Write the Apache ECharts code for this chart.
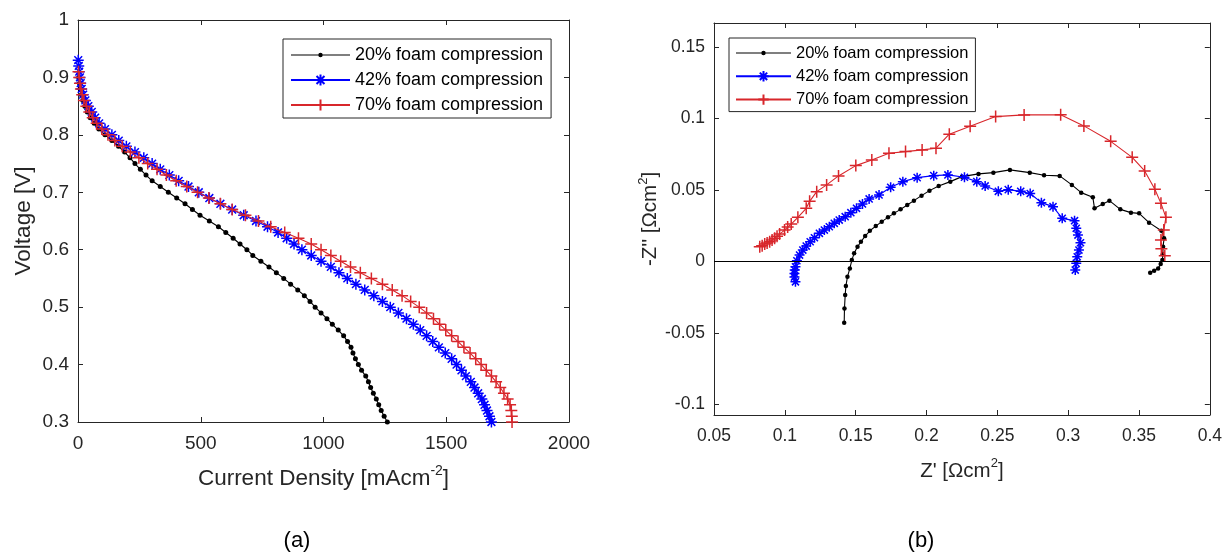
<!DOCTYPE html>
<html><head><meta charset="utf-8">
<script src="https://cdn.jsdelivr.net/npm/echarts@6/dist/echarts.min.js"></script>
<style>html,body{margin:0;padding:0;background:#fff;}#c{width:1225px;height:554px;}</style>
</head><body><div id="c"></div>
<script>
// ---------- names & ticks ----------
const seriesNames = ['20% foam compression', '42% foam compression', '70% foam compression'];
const leftXTicks = [0, 500, 1000, 1500, 2000];
const leftYTicks = [0.3, 0.4, 0.5, 0.6, 0.7, 0.8, 0.9, 1];
const rightXTicks = [0.05, 0.1, 0.15, 0.2, 0.25, 0.3, 0.35, 0.4];
const rightYTicks = [-0.1, -0.05, 0, 0.05, 0.1, 0.15];

// ---------- (a) polarisation curves: voltage [V] vs current density [mA cm-2] ----------
const voltage20 = [0.90,0.89,0.88,0.87,0.86,0.85,0.84,0.83,0.82,0.81,0.80,0.79,0.78,0.77,0.76,0.75,0.74,0.73,0.72,0.71,0.70,0.69,0.68,0.67,0.66,0.65,0.64,0.63,0.62,0.61,0.60,0.59,0.58,0.57,0.56,0.55,0.54,0.53,0.52,0.51,0.50,0.49,0.48,0.47,0.46,0.45,0.44,0.43,0.42,0.41,0.40,0.39,0.38,0.37,0.36,0.35,0.34,0.33,0.32,0.31,0.30];
const current20 = [3,6,9,14,20,28,38,50,66,85,110,138,165,190,212,232,254,277,302,335,368,402,436,466,497,535,572,602,632,660,688,712,745,778,808,838,866,895,922,945,966,990,1014,1036,1060,1082,1098,1112,1120,1130,1142,1155,1172,1183,1192,1203,1215,1225,1235,1247,1260];

const voltage42 = [0.93,0.92,0.91,0.90,0.89,0.88,0.87,0.86,0.85,0.84,0.83,0.82,0.81,0.80,0.79,0.78,0.77,0.76,0.75,0.74,0.73,0.72,0.71,0.70,0.69,0.68,0.67,0.66,0.65,0.64,0.63,0.62,0.61,0.60,0.59,0.58,0.57,0.56,0.55,0.54,0.53,0.52,0.51,0.50,0.49,0.48,0.47,0.46,0.45,0.44,0.43,0.42,0.41,0.40,0.39,0.38,0.37,0.36,0.35,0.34,0.33,0.32,0.31,0.30];
const current42 = [1,3,5,8,11,15,21,30,42,56,70,86,110,138,166,197,232,268,302,335,372,410,450,492,535,580,628,675,725,772,815,850,880,912,950,990,1030,1063,1097,1132,1168,1205,1240,1272,1305,1338,1366,1394,1420,1445,1470,1496,1522,1542,1562,1580,1600,1615,1630,1645,1656,1666,1676,1684];

const voltage70 = [0.91,0.90,0.89,0.88,0.87,0.86,0.85,0.84,0.83,0.82,0.81,0.80,0.79,0.78,0.77,0.76,0.75,0.74,0.73,0.72,0.71,0.70,0.69,0.68,0.67,0.66,0.65,0.64,0.63,0.62,0.61,0.60,0.59,0.58,0.57,0.56,0.55,0.54,0.53,0.52,0.51,0.50,0.49,0.48,0.47,0.46,0.45,0.44,0.43,0.42,0.41,0.40,0.39,0.38,0.37,0.36,0.35,0.34,0.33,0.32,0.31,0.30];
const current70 = [2,5,8,12,17,24,34,46,60,76,97,122,150,180,213,248,284,322,360,400,443,487,533,580,628,682,735,785,842,898,950,990,1030,1070,1110,1150,1195,1240,1280,1320,1355,1390,1420,1448,1473,1498,1522,1548,1572,1597,1620,1642,1663,1684,1703,1720,1735,1750,1760,1765,1767,1768];

// ---------- (b) Nyquist plots: Z' and -Z'' [Ohm cm2] ----------
const zRe20 = [0.1419,0.1421,0.1426,0.1431,0.1442,0.1459,0.1473,0.1489,0.1513,0.1537,0.1567,0.1600,0.1642,0.1684,0.1728,0.1770,0.1817,0.1864,0.1911,0.1965,0.2021,0.2086,0.2168,0.2250,0.2367,0.2472,0.2589,0.2729,0.2830,0.2940,0.3026,0.3092,0.3174,0.3186,0.3244,0.3291,0.3368,0.3443,0.3501,0.3571,0.3658,0.3677,0.3670,0.3668,0.3665,0.3653,0.3635,0.3607,0.3579];
const zIm20 = [-0.0430,-0.0330,-0.0236,-0.0173,-0.0108,-0.0049,0.0009,0.0056,0.0102,0.0137,0.0177,0.0214,0.0247,0.0278,0.0308,0.0336,0.0364,0.0395,0.0425,0.0460,0.0495,0.0528,0.0558,0.0593,0.0612,0.0621,0.0640,0.0621,0.0603,0.0598,0.0535,0.0481,0.0449,0.0371,0.0402,0.0425,0.0364,0.0341,0.0336,0.0271,0.0214,0.0161,0.0102,0.0050,0.0009,-0.0019,-0.0049,-0.0066,-0.0080];

const zRe42 = [0.1075,0.1068,0.1068,0.1070,0.1075,0.1085,0.1104,0.1127,0.1151,0.1179,0.1209,0.1244,0.1279,0.1314,0.1349,0.1384,0.1426,0.1466,0.1506,0.1548,0.1595,0.1665,0.1747,0.1833,0.1934,0.2051,0.2151,0.2268,0.2355,0.2414,0.2507,0.2577,0.2665,0.2732,0.2811,0.2893,0.2958,0.3045,0.3057,0.3069,0.3087,0.3076,0.3064,0.3057,0.3050];
const zIm42 = [-0.0143,-0.0110,-0.0084,-0.0060,-0.0038,0.0004,0.0044,0.0079,0.0107,0.0137,0.0165,0.0196,0.0219,0.0242,0.0266,0.0289,0.0313,0.0341,0.0371,0.0402,0.0437,0.0465,0.0519,0.0558,0.0586,0.0600,0.0605,0.0589,0.0558,0.0528,0.0490,0.0502,0.0490,0.0475,0.0411,0.0383,0.0301,0.0285,0.0231,0.0184,0.0130,0.0079,0.0032,-0.0014,-0.0061];

const zRe70 = [0.0823,0.0840,0.0858,0.0875,0.0893,0.0910,0.0928,0.0945,0.0963,0.0998,0.1020,0.1045,0.1092,0.1151,0.1175,0.1225,0.1295,0.1379,0.1501,0.1614,0.1735,0.1852,0.1969,0.2067,0.2161,0.2308,0.2488,0.2689,0.2947,0.3111,0.3300,0.3452,0.3540,0.3612,0.3655,0.3690,0.3675,0.3655,0.3658,0.3682];
const zIm70 = [0.0102,0.0110,0.0121,0.0129,0.0137,0.0150,0.0161,0.0176,0.0191,0.0219,0.0240,0.0261,0.0308,0.0371,0.0420,0.0488,0.0535,0.0598,0.0670,0.0710,0.0757,0.0768,0.0780,0.0792,0.0890,0.0945,0.1013,0.1025,0.1026,0.0948,0.0840,0.0728,0.0633,0.0505,0.0406,0.0308,0.0220,0.0150,0.0088,0.0040];

// ---------- styling ----------
const FONT = "'Liberation Sans', Arial, Helvetica, sans-serif";
const AX = '#262626';
const COLORS = ['#000000', '#0000ff', '#d8262b'];
const ASTERISK = 'path://M5,0L5,10M0,5L10,5M1.46,1.46L8.54,8.54M8.54,1.46L1.46,8.54';
const PLUS = 'path://M5,0L5,10M0,5L10,5';
function zip(xs, ys) { return xs.map((x, i) => [x, ys[i]]); }
function octagon(cx, cy, r) {
  let s = '';
  for (let k = 0; k < 8; k++) {
    const a = k * Math.PI / 4;
    s += (k ? 'L' : 'M') + (cx + r * Math.cos(a)).toFixed(2) + ',' + (cy + r * Math.sin(a)).toFixed(2);
  }
  return s + 'Z';
}
function blackIcon(w, h) {
  const c = h / 2;
  return 'path://M0,' + (c - 0.5) + 'L' + w + ',' + (c - 0.5) + 'L' + w + ',' + (c + 0.5) + 'L0,' + (c + 0.5) + 'Z' + octagon(w / 2, c, 2.3);
}
function fmt(v) { return String(parseFloat(v.toFixed(4))); }

function valAxis(o) {
  const base = {
    type: 'value', splitLine: { show: false },
    axisLine: { show: true, onZero: false, lineStyle: { color: AX, width: 1 } },
    axisTick: { show: true, inside: true, length: 5, lineStyle: { color: AX, width: 1 } },
    axisLabel: { show: true, color: AX, fontFamily: FONT, fontSize: 19, margin: 12, formatter: fmt }
  };
  const r = Object.assign({}, base, o);
  if (o.axisLabel) r.axisLabel = Object.assign({}, base.axisLabel, o.axisLabel);
  if (o.axisTick) r.axisTick = Object.assign({}, base.axisTick, o.axisTick);
  return r;
}
function richName(size, supSize) {
  return {
    color: AX, fontFamily: FONT, fontSize: size,
    rich: {
      a: { color: AX, fontFamily: FONT, fontSize: size, verticalAlign: 'bottom', lineHeight: size + 4 },
      b: { color: AX, fontFamily: FONT, fontSize: supSize, verticalAlign: 'top', lineHeight: supSize + 2 }
    }
  };
}

const xAxis = [
  valAxis({ gridIndex: 0, position: 'bottom', min: 0, max: 2000, interval: 500,
    name: '{a|Current Density [mAcm}{b|-2}{a|]}', nameLocation: 'middle', nameGap: 42,
    nameTextStyle: richName(22.5, 14) }),
  valAxis({ gridIndex: 0, position: 'top', min: 0, max: 2000, interval: 500, axisLabel: { show: false } }),
  valAxis({ gridIndex: 1, position: 'bottom', min: 0.05, max: 0.4, interval: 0.05,
    axisLabel: { fontSize: 17.5 },
    name: "{a|Z' [Ωcm}{b|2}{a|]}", nameLocation: 'middle', nameGap: 42,
    nameTextStyle: richName(20.5, 13) }),
  valAxis({ gridIndex: 1, position: 'top', min: 0.05, max: 0.4, interval: 0.05, axisLabel: { show: false } })
];
const yAxis = [
  valAxis({ gridIndex: 0, position: 'left', min: 0.3, max: 1, interval: 0.1,
    axisLabel: { margin: 9 },
    name: 'Voltage [V]', nameLocation: 'middle', nameGap: 43,
    nameTextStyle: { color: AX, fontFamily: FONT, fontSize: 22.5 } }),
  valAxis({ gridIndex: 0, position: 'right', min: 0.3, max: 1, interval: 0.1, axisLabel: { show: false } }),
  valAxis({ gridIndex: 1, position: 'left', min: -0.1075, max: 0.1668,
    axisLabel: { fontSize: 17.5, margin: 9, customValues: rightYTicks },
    axisTick: { customValues: rightYTicks },
    name: "{a|-Z'' [Ωcm}{b|2}{a|]}", nameLocation: 'middle', nameGap: 52,
    nameTextStyle: richName(20.5, 13) }),
  valAxis({ gridIndex: 1, position: 'right', min: -0.1075, max: 0.1668,
    axisLabel: { show: false, customValues: rightYTicks },
    axisTick: { customValues: rightYTicks } })
];

function mkSeries(idx, data, xi, yi, sizes) {
  const c = COLORS[idx];
  const s = {
    type: 'line', name: seriesNames[idx], xAxisIndex: xi, yAxisIndex: yi, data: data,
    showAllSymbol: true, animation: false, silent: true, z: 2 + idx,
    lineStyle: { color: c, width: 1.1 },
    emphasis: { disabled: true }
  };
  if (idx === 0) {
    s.symbol = 'circle'; s.symbolSize = sizes[0];
    s.itemStyle = { color: c, borderWidth: 0 };
  } else if (idx === 1) {
    s.symbol = ASTERISK; s.symbolSize = sizes[1];
    s.itemStyle = { color: c, borderColor: c, borderWidth: 1.5 };
  } else {
    s.symbol = PLUS; s.symbolSize = sizes[2];
    s.itemStyle = { color: c, borderColor: c, borderWidth: 1.5 };
  }
  return s;
}

const series = [
  mkSeries(0, zip(current20, voltage20), 0, 0, [5, 11, 12]),
  mkSeries(1, zip(current42, voltage42), 0, 0, [5, 11, 12]),
  mkSeries(2, zip(current70, voltage70), 0, 0, [5, 11, 12]),
  mkSeries(0, zip(zRe20, zIm20), 2, 2, [4.5, 10, 12]),
  mkSeries(1, zip(zRe42, zIm42), 2, 2, [4.5, 10, 12]),
  mkSeries(2, zip(zRe70, zIm70), 2, 2, [4.5, 10, 12])
];
series[3].markLine = {
  silent: true, symbol: ['none', 'none'], animation: false,
  label: { show: false }, lineStyle: { color: '#000', width: 1, type: 'solid' },
  emphasis: { disabled: true },
  data: [{ yAxis: 0 }]
};

const legend = [
  { orient: 'vertical', left: 283, top: 39, itemWidth: 59, itemHeight: 14, itemGap: 5,
    padding: [6, 8, 3, 7], borderColor: AX, borderWidth: 1, backgroundColor: '#fff',
    selectedMode: false, symbolKeepAspect: true,
    textStyle: { fontSize: 18, fontFamily: FONT, color: '#000', lineHeight: 20 },
    data: [{ name: seriesNames[0], icon: blackIcon(59, 14) }, seriesNames[1], seriesNames[2]] },
  { orient: 'vertical', left: 729, top: 38, itemWidth: 55, itemHeight: 13, itemGap: 4.3,
    padding: [5.5, 7, 2.5, 6], borderColor: AX, borderWidth: 1, backgroundColor: '#fff',
    selectedMode: false, symbolKeepAspect: true,
    textStyle: { fontSize: 16.5, fontFamily: FONT, color: '#000', lineHeight: 19 },
    data: [{ name: seriesNames[0], icon: blackIcon(55, 13) }, seriesNames[1], seriesNames[2]] }
];

const chart = echarts.init(document.getElementById('c'), null, { renderer: 'canvas' });
chart.setOption({
  animation: false,
  backgroundColor: '#ffffff',
  grid: [
    { left: 78, top: 20, width: 491, height: 402 },
    { left: 714, top: 23, width: 499, height: 392 }
  ],
  xAxis: xAxis, yAxis: yAxis, series: series, legend: legend,
  graphic: [
    { type: 'text', x: 297, y: 541, style: { text: '(a)', fontSize: 22, fontFamily: FONT, fill: '#000', align: 'center', verticalAlign: 'middle' } },
    { type: 'text', x: 921, y: 541, style: { text: '(b)', fontSize: 22, fontFamily: FONT, fill: '#000', align: 'center', verticalAlign: 'middle' } }
  ]
});
</script>
</body></html>
